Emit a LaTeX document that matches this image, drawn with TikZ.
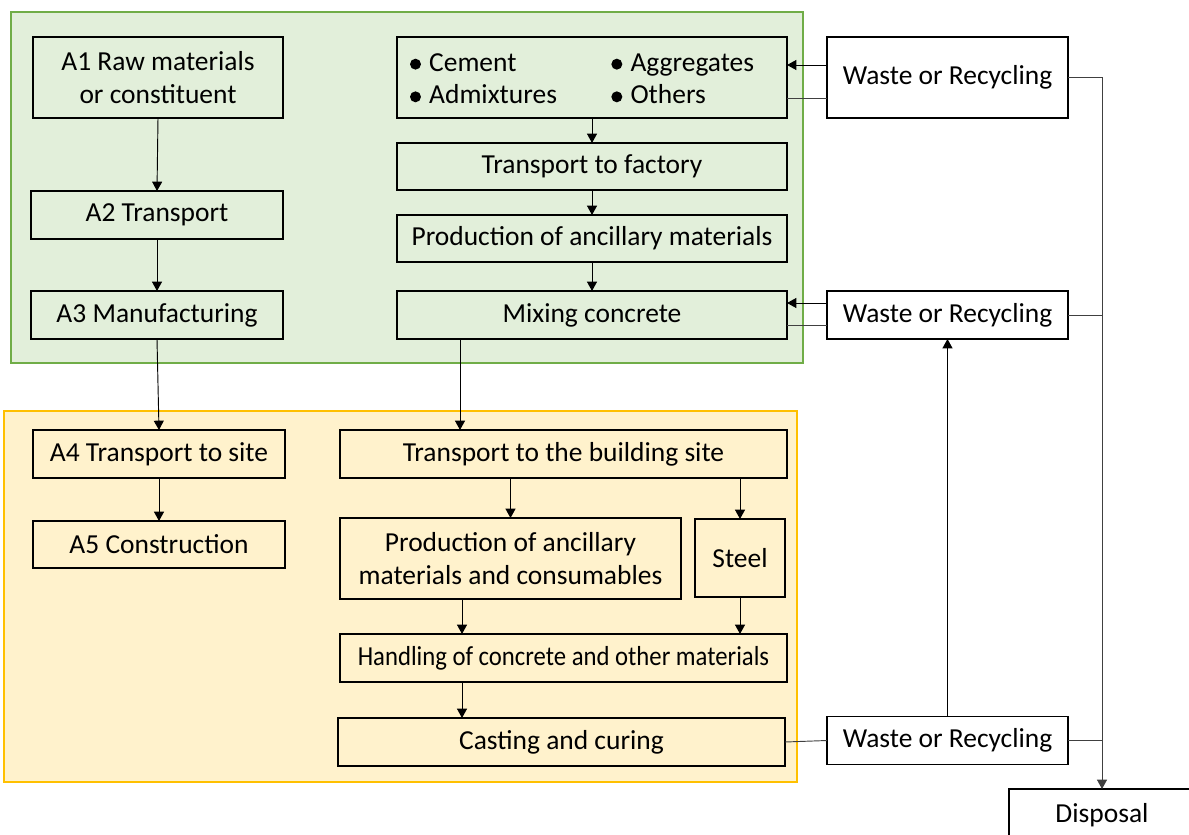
\documentclass[tikz,border=0pt]{standalone}
\usepackage{fontspec}
\usepackage{graphicx}
\setmainfont{Carlito}
\usetikzlibrary{arrows.meta,positioning,calc}

\definecolor{prodfill}{HTML}{E2EFDA}
\definecolor{prodline}{HTML}{70AD47}
\definecolor{sitefill}{HTML}{FFF2CC}
\definecolor{siteline}{HTML}{FFC000}
\newcommand{\bul}{\raisebox{0.05em}{\tikz\fill (0,0) circle (0.2em);}\hspace{0.3em}}

\begin{document}
\begin{tikzpicture}[
  x=0.75pt, y=-0.75pt,
  >={Triangle[length=7pt,width=7.5pt]},
  every node/.style={font=\fontsize{20.6}{24.5}\selectfont},
  box/.style={draw, line width=1.2pt, align=center, inner sep=0pt, outer sep=0pt},
  row/.style={box, minimum height=36pt},
  tall/.style={box, minimum height=60.75pt},
  arr/.style={->, line width=0.7pt},
  link/.style={line width=0.7pt, black!75},
  panel/.style={line width=1.5pt},
]
\useasboundingbox (0,0) rectangle (1189,835);

\draw[panel, draw=prodline, fill=prodfill] (11,12) rectangle (803,363);
\draw[panel, draw=siteline, fill=sitefill] (4,411) rectangle (797,782);

\node[tall, minimum width=187.5pt] (a1) at (158,77.5) {A1 Raw materials\\or constituent};
\node[row, minimum width=189pt] (a2) at (157,215) {A2 Transport};
\node[row, minimum width=189pt] (a3) at (157,315) {A3 Manufacturing};

\node[tall, minimum width=292.5pt] (cem) at (592,77.5)
  {\raisebox{-2.5pt}[\height][\depth]{\begin{tabular}{@{}p{151pt}@{}p{122pt}@{}}
   \bul Cement & \bul Aggregates\\
   \bul Admixtures & \bul Others
   \end{tabular}}};
\node[row, minimum width=292.5pt, minimum height=35.25pt, below=18.75pt of cem] (trf) {Transport to factory};
\node[row, minimum width=292.5pt, minimum height=35.25pt, below=18.75pt of trf] (pan) {Production of ancillary materials};
\node[row, minimum width=292.5pt, below=21.75pt of pan] (mix) {Mixing concrete};

\node[tall, minimum width=180.75pt] (w1) at (947.5,77.5) {Waste or Recycling};
\node[row, minimum width=180.75pt] (w2) at (947.5,315) {Waste or Recycling};
\node[row, minimum width=180.75pt] (w3) at (947.5,740.5) {Waste or Recycling};
\node[box, minimum width=139.5pt, minimum height=39pt] (disp) at (1102,815) {Disposal};

\node[row, minimum width=189pt] (a4) at (159,454) {A4 Transport to site};
\node[row, minimum width=189pt, minimum height=35.25pt, below=32.25pt of a4] (a5) {A5 Construction};

\node[row, minimum width=335.25pt] (bld) at (563.5,454) {Transport to the building site};
\node[tall, minimum width=255.75pt, anchor=north west] (pcs) at (340,518) {Production of ancillary\\materials and consumables};
\node[box, minimum width=67.5pt, minimum height=58.5pt, anchor=north west] (stl) at (695,519) {Steel};
\node[row, minimum width=335.25pt] (hdl) at (563.5,658) {\scalebox{0.9}[1]{Handling of concrete and other materials}};
\node[row, minimum width=335.25pt] (cst) at (561.5,742) {Casting and curing};

\draw[arr] (a1.south) -- (a2.north);
\draw[arr] (a2.south) -- (a3.north);
\draw[arr] (a3.south) -- (a4.north);
\draw[arr] (a4.south) -- (a5.north);

\draw[arr] (cem.south) -- (trf.north);
\draw[arr] (trf.south) -- (pan.north);
\draw[arr] (pan.south) -- (mix.north);
\draw[arr] ($(mix.south west)+(63,0)$) -- ($(bld.north west)+(120,0)$);

\draw[arr] (pcs.north |- bld.south) -- (pcs.north);
\draw[arr] (stl.north |- bld.south) -- (stl.north);
\draw[arr] ($(pcs.south west)+(122,0)$) -- ($(hdl.north west)+(122,0)$);
\draw[arr] (stl.south) -- (stl.south |- hdl.north);
\draw[arr] ($(hdl.south west)+(122,0)$) -- ($(cst.north west)+(124,0)$);

\draw[arr] ($(w1.north west)+(0,28)$) -- ($(cem.north east)+(0,28)$);
\draw[link] ($(cem.north east)+(0,61)$) -- ($(w1.north west)+(0,61)$);
\draw[arr] ($(w2.north west)+(0,12)$) -- ($(mix.north east)+(0,12)$);
\draw[link] ($(mix.north east)+(0,34)$) -- ($(w2.north west)+(0,34)$);
\draw[link] (cst.east) -- (w3.west);
\draw[arr] (w3.north) -- (w2.south);

\draw[arr, link] (w1.east) -| (disp.north);
\draw[link] (w2.east) -- (w2.east -| disp.north);
\draw[link] (w3.east) -- (w3.east -| disp.north);
\end{tikzpicture}
\end{document}
